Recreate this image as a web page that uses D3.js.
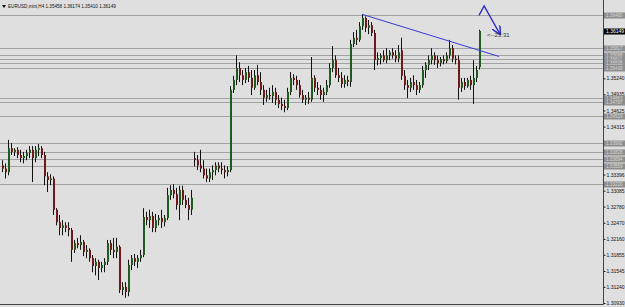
<!DOCTYPE html>
<html>
<head>
<meta charset="utf-8">
<script src="https://cdn.jsdelivr.net/npm/d3@7"></script>
<style>
  body { margin: 0; background: #dfdfdf; }
  svg { display: block; font-family: "Liberation Sans", Arial, sans-serif; }
</style>
</head>
<body>
<div id="chart"></div>
<script>
// EURUSD H4 candles, [open, high, low, close]
const candles = [
  [1.3357,1.3367,1.3344,1.3351],[1.3351,1.3361,1.3332,1.3344],[1.3344,1.3406,1.3338,1.3390],
  [1.3390,1.3400,1.3377,1.3383],[1.3383,1.3390,1.3375,1.3387],[1.3387,1.3392,1.3371,1.3377],
  [1.3377,1.3387,1.3363,1.3371],[1.3371,1.3383,1.3361,1.3375],[1.3375,1.3387,1.3367,1.3381],
  [1.3381,1.3394,1.3371,1.3387],[1.3387,1.3394,1.3325,1.3371],[1.3371,1.3394,1.3363,1.3387],
  [1.3387,1.3398,1.3375,1.3390],[1.3390,1.3394,1.3371,1.3377],[1.3377,1.3383,1.3319,1.3336],
  [1.3336,1.3344,1.3306,1.3329],[1.3329,1.3340,1.3319,1.3332],[1.3332,1.3336,1.3262,1.3272],
  [1.3272,1.3275,1.3242,1.3248],[1.3248,1.3262,1.3223,1.3237],[1.3237,1.3252,1.3223,1.3242],
  [1.3242,1.3248,1.3229,1.3237],[1.3237,1.3248,1.3221,1.3233],[1.3233,1.3237,1.3172,1.3195],
  [1.3195,1.3214,1.3189,1.3208],[1.3208,1.3218,1.3198,1.3204],[1.3204,1.3223,1.3195,1.3210],
  [1.3210,1.3214,1.3183,1.3191],[1.3191,1.3204,1.3179,1.3195],[1.3195,1.3198,1.3172,1.3179],
  [1.3179,1.3185,1.3152,1.3164],[1.3164,1.3179,1.3146,1.3172],[1.3172,1.3176,1.3137,1.3160],
  [1.3160,1.3172,1.3152,1.3166],[1.3166,1.3179,1.3152,1.3172],[1.3172,1.3214,1.3166,1.3208],
  [1.3208,1.3214,1.3185,1.3195],[1.3195,1.3218,1.3179,1.3191],[1.3191,1.3218,1.3179,1.3201],
  [1.3201,1.3204,1.3112,1.3118],[1.3118,1.3133,1.3108,1.3124],[1.3124,1.3133,1.3103,1.3114],
  [1.3114,1.3176,1.3106,1.3166],[1.3166,1.3185,1.3156,1.3179],[1.3179,1.3187,1.3164,1.3172],
  [1.3172,1.3185,1.3160,1.3179],[1.3179,1.3195,1.3172,1.3185],[1.3185,1.3275,1.3181,1.3258],
  [1.3258,1.3268,1.3242,1.3252],[1.3252,1.3272,1.3237,1.3260],[1.3260,1.3268,1.3229,1.3237],
  [1.3237,1.3264,1.3229,1.3252],[1.3252,1.3262,1.3242,1.3256],[1.3256,1.3272,1.3237,1.3248],
  [1.3248,1.3262,1.3240,1.3256],[1.3256,1.3314,1.3252,1.3300],[1.3300,1.3319,1.3291,1.3310],
  [1.3310,1.3321,1.3294,1.3302],[1.3302,1.3314,1.3272,1.3281],[1.3281,1.3318,1.3252,1.3310],
  [1.3310,1.3318,1.3281,1.3291],[1.3291,1.3300,1.3275,1.3281],[1.3281,1.3295,1.3252,1.3272],
  [1.3272,1.3310,1.3262,1.3295],[1.3371,1.3383,1.3355,1.3367],[1.3367,1.3377,1.3348,1.3357],
  [1.3357,1.3387,1.3344,1.3351],[1.3351,1.3367,1.3332,1.3338],[1.3338,1.3351,1.3325,1.3332],
  [1.3332,1.3351,1.3325,1.3344],[1.3344,1.3357,1.3329,1.3348],[1.3348,1.3363,1.3338,1.3357],
  [1.3357,1.3363,1.3344,1.3351],[1.3351,1.3363,1.3340,1.3348],[1.3348,1.3357,1.3332,1.3344],
  [1.3344,1.3355,1.3336,1.3348],[1.3348,1.3509,1.3344,1.3502],[1.3502,1.3529,1.3496,1.3521],
  [1.3521,1.3568,1.3511,1.3544],[1.3544,1.3555,1.3517,1.3530],[1.3530,1.3540,1.3511,1.3521],
  [1.3521,1.3544,1.3515,1.3536],[1.3536,1.3548,1.3517,1.3525],[1.3525,1.3540,1.3492,1.3506],
  [1.3506,1.3540,1.3502,1.3530],[1.3530,1.3550,1.3511,1.3517],[1.3517,1.3536,1.3492,1.3502],
  [1.3502,1.3511,1.3473,1.3487],[1.3487,1.3502,1.3479,1.3492],[1.3492,1.3506,1.3483,1.3490],
  [1.3490,1.3511,1.3477,1.3498],[1.3498,1.3506,1.3473,1.3483],[1.3483,1.3492,1.3467,1.3475],
  [1.3475,1.3487,1.3463,1.3471],[1.3471,1.3483,1.3459,1.3467],[1.3467,1.3506,1.3463,1.3498],
  [1.3498,1.3536,1.3492,1.3525],[1.3525,1.3532,1.3511,1.3521],[1.3521,1.3529,1.3502,1.3511],
  [1.3511,1.3521,1.3487,1.3492],[1.3492,1.3502,1.3477,1.3483],[1.3483,1.3492,1.3473,1.3487],
  [1.3487,1.3498,1.3475,1.3483],[1.3483,1.3565,1.3479,1.3525],[1.3525,1.3530,1.3498,1.3506],
  [1.3506,1.3517,1.3492,1.3502],[1.3502,1.3511,1.3483,1.3492],[1.3492,1.3506,1.3479,1.3498],
  [1.3498,1.3521,1.3492,1.3511],[1.3511,1.3553,1.3506,1.3544],[1.3544,1.3586,1.3536,1.3559],
  [1.3559,1.3568,1.3525,1.3530],[1.3530,1.3544,1.3517,1.3525],[1.3525,1.3536,1.3506,1.3513],
  [1.3513,1.3530,1.3506,1.3521],[1.3521,1.3529,1.3509,1.3517],[1.3517,1.3598,1.3508,1.3590],
  [1.3590,1.3613,1.3584,1.3602],[1.3602,1.3617,1.3588,1.3598],[1.3598,1.3632,1.3594,1.3624],
  [1.3624,1.3647,1.3617,1.3640],[1.3640,1.3643,1.3613,1.3621],[1.3621,1.3636,1.3609,1.3626],
  [1.3626,1.3632,1.3605,1.3611],[1.3611,1.3617,1.3540,1.3559],[1.3559,1.3574,1.3549,1.3563],
  [1.3563,1.3572,1.3551,1.3568],[1.3568,1.3578,1.3555,1.3559],[1.3559,1.3582,1.3553,1.3568],
  [1.3568,1.3578,1.3559,1.3574],[1.3574,1.3582,1.3562,1.3568],[1.3568,1.3578,1.3555,1.3562],
  [1.3562,1.3588,1.3555,1.3574],[1.3578,1.3602,1.3521,1.3529],[1.3529,1.3540,1.3502,1.3511],
  [1.3511,1.3521,1.3486,1.3506],[1.3506,1.3525,1.3498,1.3517],[1.3517,1.3530,1.3502,1.3511],
  [1.3511,1.3521,1.3492,1.3502],[1.3502,1.3517,1.3496,1.3511],[1.3511,1.3548,1.3506,1.3540],
  [1.3540,1.3555,1.3525,1.3550],[1.3550,1.3568,1.3540,1.3559],[1.3559,1.3582,1.3551,1.3568],
  [1.3568,1.3574,1.3550,1.3559],[1.3559,1.3568,1.3544,1.3553],[1.3553,1.3565,1.3547,1.3561],
  [1.3561,1.3568,1.3551,1.3557],[1.3557,1.3574,1.3553,1.3568],[1.3568,1.3598,1.3562,1.3582],
  [1.3582,1.3588,1.3555,1.3562],[1.3562,1.3568,1.3551,1.3559],[1.3559,1.3568,1.3483,1.3506],
  [1.3506,1.3525,1.3498,1.3517],[1.3517,1.3525,1.3502,1.3509],[1.3509,1.3525,1.3506,1.3521],
  [1.3521,1.3529,1.3502,1.3511],[1.3511,1.3559,1.3475,1.3525],[1.3525,1.3548,1.3517,1.3540],
  [1.35458,1.36174,1.35410,1.36149]
];

const symbolName = "EURUSD,mini,H4";
const lastBar = [1.35458, 1.36174, 1.35410, 1.36149];
const currentPrice = 1.36149;

// price window of the chart (fixed scale)
const priceRange = [1.30911, 1.36744];

// horizontal levels drawn on the chart
const levelPrices = [
  1.36460, 1.35817, 1.35688, 1.35611, 1.35535, 1.35439,
  1.34863, 1.34787, 1.34519, 1.33992, 1.33828, 1.33694, 1.33559, 1.33220
];

// plain scale ticks on the right
const tickPrices = [
  1.35240, 1.34935, 1.34625, 1.34315, 1.33396, 1.33085, 1.32780,
  1.32470, 1.32160, 1.31855, 1.31545, 1.31240, 1.30930
];

// drawn objects: [bar index, price]
const trendPoints = [[120, 1.3647], [165.7, 1.3566]];
const arrowPoints = [[159, 1.3645], [160.7, 1.3663], [166, 1.3609]];
const timerLabel = { bar: 161.7, price: 1.3608, text: "<--23:31" };

const width = 625, height = 307;
const plotRight = 603, plotBottom = 304;

const svg = d3.select("#chart").append("svg")
  .attr("width", width)
  .attr("height", height);

svg.append("rect")
  .attr("width", width)
  .attr("height", height)
  .attr("fill", "#dfdfdf");

const x = d3.scaleLinear()
  .domain([0, candles.length - 1])
  .range([2, 479]);

const y = d3.scaleLinear()
  .domain(priceRange)
  .range([plotBottom, 0]);

// horizontal levels
svg.append("g")
  .selectAll("line")
  .data(levelPrices)
  .join("line")
  .attr("x1", 0)
  .attr("x2", plotRight)
  .attr("y1", (d) => Math.round(y(d)) + 0.5)
  .attr("y2", (d) => Math.round(y(d)) + 0.5)
  .attr("stroke", "#a2a2a2")
  .attr("stroke-width", 1);

// candles
const bars = svg.append("g").attr("class", "candles");

bars.selectAll(".wick")
  .data(candles)
  .join("line")
  .attr("class", "wick")
  .attr("x1", (d, i) => Math.round(x(i)) + 0.5)
  .attr("x2", (d, i) => Math.round(x(i)) + 0.5)
  .attr("y1", (d) => y(d[1]))
  .attr("y2", (d) => y(d[2]))
  .attr("stroke", "#111")
  .attr("stroke-width", 1);

bars.selectAll(".body")
  .data(candles)
  .join("rect")
  .attr("class", "body")
  .attr("x", (d, i) => Math.round(x(i)))
  .attr("width", 2)
  .attr("y", (d) => y(Math.max(d[0], d[3])))
  .attr("height", (d) => Math.max(1, Math.abs(y(d[0]) - y(d[3]))))
  .attr("fill", (d) => (d[3] >= d[0] ? "#1f5a1f" : "#6e1a1a"));

// trend line
svg.append("line")
  .attr("x1", x(trendPoints[0][0]))
  .attr("y1", y(trendPoints[0][1]))
  .attr("x2", x(trendPoints[1][0]))
  .attr("y2", y(trendPoints[1][1]))
  .attr("stroke", "#3a3ad8")
  .attr("stroke-width", 1);

// arrow
svg.append("defs").append("marker")
  .attr("id", "head")
  .attr("viewBox", "0 0 10 10")
  .attr("refX", 9)
  .attr("refY", 5)
  .attr("markerWidth", 7)
  .attr("markerHeight", 7)
  .attr("orient", "auto")
  .append("path")
  .attr("d", "M0,0 L10,5 L0,10")
  .attr("fill", "none")
  .attr("stroke", "#2a2ac8")
  .attr("stroke-width", 1.6);

svg.append("path")
  .attr("d", d3.line().x((d) => x(d[0])).y((d) => y(d[1]))(arrowPoints))
  .attr("fill", "none")
  .attr("stroke", "#2a2ac8")
  .attr("stroke-width", 1.3)
  .attr("marker-end", "url(#head)");

svg.append("text")
  .attr("x", x(timerLabel.bar))
  .attr("y", y(timerLabel.price))
  .attr("dy", "0.35em")
  .attr("font-size", 6)
  .attr("fill", "#333")
  .text(timerLabel.text);

// frame
svg.append("line")
  .attr("x1", plotRight + 0.5).attr("x2", plotRight + 0.5)
  .attr("y1", 0).attr("y2", plotBottom + 0.5)
  .attr("stroke", "#444");
svg.append("line")
  .attr("x1", 0).attr("x2", plotRight + 0.5)
  .attr("y1", plotBottom + 0.5).attr("y2", plotBottom + 0.5)
  .attr("stroke", "#444");

// right price scale
const axis = svg.append("g")
  .attr("transform", `translate(${plotRight + 0.5},0)`)
  .call(d3.axisRight(y).tickValues(tickPrices).tickSize(2).tickPadding(1)
    .tickFormat(d3.format(".5f")));
axis.select(".domain").remove();
axis.selectAll("text").attr("font-size", 5).attr("fill", "#111")
  .attr("font-family", "Liberation Sans, Arial, sans-serif");
axis.selectAll("line").attr("stroke", "#222");

// level labels
const tags = svg.append("g")
  .selectAll("g")
  .data(levelPrices)
  .join("g")
  .attr("transform", (d) => `translate(${plotRight + 1},${Math.round(y(d)) + 0.5})`);
tags.append("rect")
  .attr("x", 0).attr("y", -3).attr("width", 21).attr("height", 6)
  .attr("fill", "#8e8e8e");
tags.append("text")
  .attr("x", 2).attr("dy", "0.35em")
  .attr("font-size", 4.6).attr("fill", "#d8d8d8")
  .text((d) => d.toFixed(5));

// current price tag
const cur = svg.append("g")
  .attr("transform", `translate(${plotRight + 1},${Math.round(y(currentPrice)) + 0.5})`);
cur.append("rect")
  .attr("x", 0).attr("y", -3).attr("width", 21).attr("height", 6)
  .attr("fill", "#000");
cur.append("text")
  .attr("x", 2).attr("dy", "0.35em")
  .attr("font-size", 5).attr("fill", "#fff")
  .text(currentPrice.toFixed(5));

// header
svg.append("path")
  .attr("d", "M2,5 L6,5 L4,8 Z")
  .attr("fill", "#111");
svg.append("text")
  .attr("x", 8)
  .attr("y", 6.5)
  .attr("dy", "0.35em")
  .attr("font-size", 4.6)
  .attr("fill", "#111")
  .text(`${symbolName}  ${lastBar.map((v) => v.toFixed(5)).join(" ")}`);
</script>
</body>
</html>
